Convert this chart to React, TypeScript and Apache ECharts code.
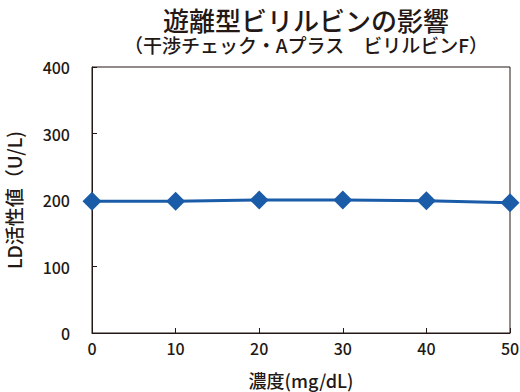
import React, { useEffect, useRef } from "react";
import * as echarts from "echarts";

const concentrations = [0, 10, 20, 30, 40, 50];
const ldValues = [198, 198, 200, 200, 199, 196];
const titleText = "遊離型ビリルビンの影響";
const subtitleText = "（干渉チェック・Aプラス　ビリルビンF）";
const xName = "濃度(mg/dL)";
const yName = "LD活性値（U/L)";

const FONT = "'Noto Sans CJK JP', 'Noto Sans', sans-serif";
const INK = "#231815";

export default function App() {
  const ref = useRef<HTMLDivElement>(null);
  useEffect(() => {
    if (!ref.current) return;
    const chart = echarts.init(ref.current, undefined, { renderer: "svg" });
    chart.setOption({
      animation: false,
      textStyle: { fontFamily: FONT },
      title: [
        {
          text: titleText,
          left: 306,
          textAlign: "center",
          top: 4,
          padding: 0,
          textStyle: { fontFamily: FONT, fontSize: 26, fontWeight: 500, color: INK, lineHeight: 30 },
        },
        {
          text: subtitleText,
          left: 306,
          textAlign: "center",
          top: 34,
          padding: 0,
          textStyle: { fontFamily: FONT, fontSize: 19, fontWeight: 500, color: INK, lineHeight: 21 },
        },
      ],
      grid: {
        left: 92,
        right: 10,
        top: 67,
        bottom: 59,
        outerBoundsMode: "none",
        containLabel: false,
        show: true,
        borderColor: INK,
        borderWidth: 1,
        backgroundColor: "transparent",
      },
      xAxis: {
        type: "value",
        min: 0,
        max: 50,
        interval: 10,
        name: xName,
        nameLocation: "middle",
        nameGap: 38,
        nameTextStyle: { fontFamily: FONT, fontSize: 18, fontWeight: 500, color: INK },
        axisLine: { show: true, lineStyle: { color: INK, width: 1 } },
        axisTick: { show: true, inside: true, length: 5, lineStyle: { color: INK } },
        axisLabel: { fontFamily: FONT, fontSize: 16, fontWeight: 500, color: INK, margin: 7 },
        splitLine: { show: false },
      },
      yAxis: {
        type: "value",
        min: 0,
        max: 400,
        interval: 100,
        name: yName,
        nameLocation: "middle",
        nameRotate: 90,
        nameGap: 69,
        nameTextStyle: { fontFamily: FONT, fontSize: 19, fontWeight: 500, color: INK },
        axisLine: { show: true, lineStyle: { color: INK, width: 1 } },
        axisTick: { show: true, inside: true, length: 5, lineStyle: { color: INK } },
        axisLabel: { fontFamily: FONT, fontSize: 16, fontWeight: 500, color: INK, margin: 22 },
        splitLine: { show: false },
      },
      series: [
        {
          type: "line",
          data: concentrations.map((c, i) => [c, ldValues[i]]),
          symbol: "diamond",
          symbolSize: [19, 19],
          lineStyle: { color: "#1a5ca8", width: 3 },
          itemStyle: { color: "#1a5ca8" },
          clip: false,
        },
      ],
    });
    return () => chart.dispose();
  }, []);
  return <div ref={ref} style={{ width: 520, height: 392, position: "absolute", left: 0, top: 0 }} />;
}
